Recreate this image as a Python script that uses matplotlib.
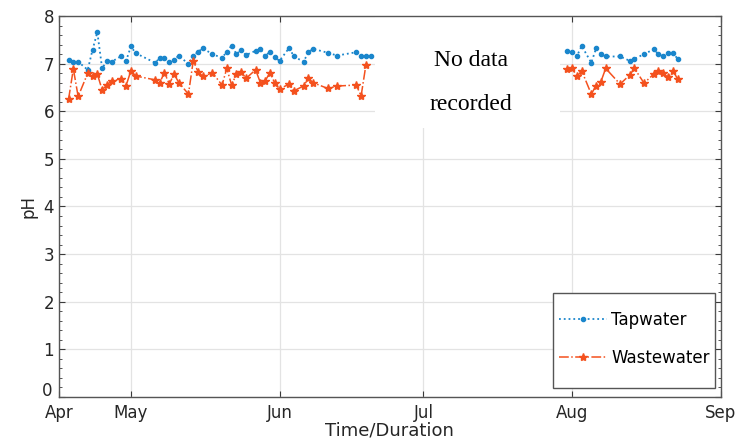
import datetime as dt

import matplotlib
matplotlib.use("Agg")
import matplotlib.pyplot as plt
import matplotlib.transforms as mtransforms
from matplotlib.patches import Rectangle
from matplotlib.ticker import MultipleLocator

# sampling dates (first campaign Apr-Jun, second campaign Aug)
dates_1 = [
    "2021-04-18", "2021-04-19", "2021-04-20", "2021-04-22", "2021-04-23", "2021-04-24",
    "2021-04-25", "2021-04-26", "2021-04-27", "2021-04-29", "2021-04-30", "2021-05-01",
    "2021-05-02", "2021-05-06", "2021-05-07", "2021-05-08", "2021-05-09", "2021-05-10",
    "2021-05-11", "2021-05-13", "2021-05-14", "2021-05-15", "2021-05-16", "2021-05-18",
    "2021-05-20", "2021-05-21", "2021-05-22", "2021-05-23", "2021-05-24", "2021-05-25",
    "2021-05-27", "2021-05-28", "2021-05-29", "2021-05-30", "2021-05-31", "2021-06-01",
    "2021-06-03", "2021-06-04", "2021-06-06", "2021-06-07", "2021-06-08", "2021-06-11",
    "2021-06-13", "2021-06-17", "2021-06-18", "2021-06-19", "2021-06-20",
]
dates_2 = [
    "2021-07-31", "2021-08-01", "2021-08-02", "2021-08-03", "2021-08-05", "2021-08-06",
    "2021-08-07", "2021-08-08", "2021-08-11", "2021-08-13", "2021-08-14", "2021-08-16",
    "2021-08-18", "2021-08-19", "2021-08-20", "2021-08-21", "2021-08-22", "2021-08-23",
]

tap_1 = [
    7.08, 7.03, 7.04, 6.87, 7.29, 7.66, 6.90, 7.06, 7.04, 7.16, 7.06, 7.36,
    7.22, 7.02, 7.11, 7.12, 7.03, 7.08, 7.17, 6.99, 7.16, 7.25, 7.32, 7.20,
    7.12, 7.25, 7.38, 7.20, 7.29, 7.18, 7.27, 7.30, 7.16, 7.25, 7.13, 7.06,
    7.33, 7.15, 7.04, 7.24, 7.31, 7.23, 7.17, 7.24, 7.16, 7.15, 7.15,
]
waste_1 = [
    6.25, 6.89, 6.31, 6.80, 6.73, 6.78, 6.45, 6.55, 6.64, 6.68, 6.54, 6.85,
    6.74, 6.66, 6.60, 6.81, 6.57, 6.78, 6.60, 6.36, 7.06, 6.83, 6.73, 6.81,
    6.55, 6.90, 6.55, 6.78, 6.83, 6.69, 6.87, 6.60, 6.64, 6.81, 6.59, 6.47,
    6.57, 6.43, 6.53, 6.69, 6.60, 6.48, 6.53, 6.55, 6.32, 6.97,
]
tap_2 = [
    7.27, 7.25, 7.16, 7.37, 7.02, 7.32, 7.20, 7.15, 7.15, 7.06, 7.10, 7.20,
    7.30, 7.20, 7.15, 7.22, 7.23, 7.10,
]
waste_2 = [
    6.89, 6.90, 6.73, 6.85, 6.36, 6.54, 6.62, 6.90, 6.57, 6.76, 6.90, 6.59,
    6.78, 6.85, 6.80, 6.71, 6.85, 6.68,
]

tick_dates = ["2021-04-16", "2021-05-01", "2021-06-01", "2021-07-01", "2021-08-01", "2021-09-01"]
tick_labels = ["Apr", "May", "Jun", "Jul", "Aug", "Sep"]
ph_ticks = [0, 1, 2, 3, 4, 5, 6, 7, 8]


def to_dt(lst):
    return [dt.datetime.strptime(s, "%Y-%m-%d") for s in lst]


plt.rcParams["font.family"] = ["DejaVu Sans"]

blue = "#1A86CC"
orange = "#F4511E"
axis_col = "#3a3a3a"
text_col = "#262626"

fig = plt.figure(figsize=(7.37, 4.45), dpi=100)
ax = fig.add_axes([0.080, 0.108, 0.898, 0.856])

d1, d2 = to_dt(dates_1), to_dt(dates_2)
ax.plot(d1, tap_1, linestyle=":", color=blue, marker="o", markersize=3,
        linewidth=1.3, label="Tapwater", zorder=4)
ax.plot(d2, tap_2, linestyle=":", color=blue, marker="o", markersize=3,
        linewidth=1.3, zorder=4)
ax.plot(d1[:len(waste_1)], waste_1, linestyle="-.", color=orange, marker="*",
        markersize=6, linewidth=1.1, label="Wastewater", zorder=4)
ax.plot(d2, waste_2, linestyle="-.", color=orange, marker="*",
        markersize=6, linewidth=1.1, zorder=4)

ticks = to_dt(tick_dates)
ax.set_xlim(ticks[0], ticks[-1])
ax.set_xticks(ticks)
ax.set_xticklabels(tick_labels)
ax.set_ylim(0, 8)
ax.set_yticks(ph_ticks)
# the bottom label is drawn separately, lifted a bit above the axis like in MATLAB
ax.set_yticklabels([""] + [str(v) for v in ph_ticks[1:]])
ax.yaxis.set_minor_locator(MultipleLocator(0.2))
ax.annotate(str(ph_ticks[0]), xy=(0, ph_ticks[0]),
            xycoords=mtransforms.blended_transform_factory(ax.transAxes, ax.transData),
            xytext=(-4.5, 4.5), textcoords="offset points",
            ha="right", va="center", fontsize=12, color=text_col)

ax.grid(True, which="major", color="#e3e3e3", linewidth=0.9, zorder=0)
ax.set_axisbelow(True)

# white patch hiding the gap area, with the annotation
ax.add_patch(Rectangle((0.477, 0.706), 0.28, 0.294, transform=ax.transAxes,
                       facecolor="white", edgecolor="none", zorder=2))
ax.text(0.622, 0.882, "No data", transform=ax.transAxes, ha="center", va="center",
        fontsize=17, family="Liberation Serif", zorder=3)
ax.text(0.622, 0.769, "recorded", transform=ax.transAxes, ha="center", va="center",
        fontsize=17, family="Liberation Serif", zorder=3)

ax.tick_params(axis="both", which="both", direction="in", top=True, right=True,
               colors=axis_col, labelcolor=text_col, labelsize=12)
ax.tick_params(axis="both", which="major", length=4)
ax.tick_params(axis="both", which="minor", length=2)
ax.tick_params(axis="x", pad=5)
for sp in ax.spines.values():
    sp.set_color("#555555")
    sp.set_linewidth(1.0)

ax.set_ylabel("pH", fontsize=12, color=text_col, labelpad=4)
ax.set_xlabel("Time/Duration", fontsize=13, color=text_col, labelpad=0)

# legend frame drawn separately so the padding can differ per direction
ax.add_patch(Rectangle((0.746, 0.024), 0.246, 0.249, transform=ax.transAxes,
                       facecolor="white", edgecolor="#555555", linewidth=1.0, zorder=5))
leg = ax.legend(loc="center", fontsize=12, handlelength=2.9, labelspacing=1.2,
                borderpad=0, handletextpad=0.25, frameon=False,
                bbox_to_anchor=(0.869, 0.152))
leg.set_zorder(6)

fig.savefig("out.png", dpi=100)
